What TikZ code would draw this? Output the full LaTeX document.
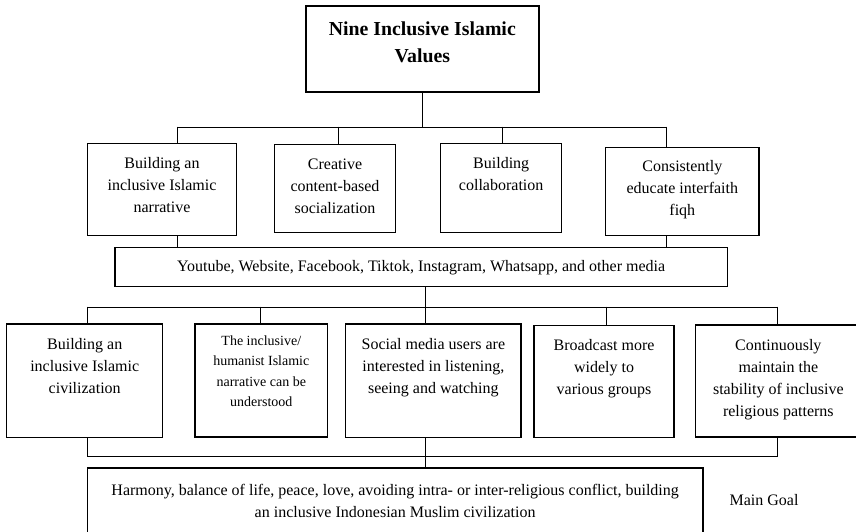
\documentclass[tikz,border=0pt]{standalone}
\usepackage{fontspec}
\setmainfont{Liberation Serif}
\usetikzlibrary{positioning,calc,backgrounds}
\pgfdeclarelayer{edgelayer}
\pgfdeclarelayer{nodelayer}
\pgfsetlayers{background,edgelayer,nodelayer,main}
\tikzstyle{none}=[inner sep=0mm]
\tikzstyle{cell}=[draw=black,line width=1.1pt,inner sep=0pt,font=\fontsize{16}{22}\selectfont]
\tikzstyle{head cell}=[cell,line width=2pt,font=\fontsize{19.8}{26.7}\selectfont\bfseries]
\tikzstyle{small cell}=[cell,font=\fontsize{14}{20.3}\selectfont]
\tikzstyle{goal}=[none,font=\fontsize{16}{22}\selectfont]
\tikzstyle{every picture}=[x=1pt,y=-1pt,line width=0.9pt]
% top aligned text in a box: width, height, first baseline, text
\newcommand{\celltext}[4]{\parbox[c][#2pt][t]{#1pt}{\centering\rule{0pt}{#3pt}#4}}

\begin{document}
\begin{tikzpicture}
	\useasboundingbox (0,0) rectangle (856,531);
	\begin{pgfonlayer}{nodelayer}
		\node [style=head cell] (top) at (422.3,49) {\celltext{233.3}{86.6}{29.6}{Nine Inclusive Islamic\\Values}};
		% strategies
		\node [style=cell] (narr) at (162,189.5) {\celltext{149.4}{92.4}{25.5}{Building an\\inclusive Islamic\\narrative}};
		\node [style=cell] (cont) at (335,188.5) {\celltext{121.4}{88.4}{25.5}{Creative\\content-based\\socialization}};
		\node [style=cell] (collab) at (501.2,188) {\celltext{121}{89.4}{25.5}{Building\\collaboration}};
		\node [style=cell] (fiqh) at (682.35,191.5) {\celltext{153.3}{88.4}{23.9}{Consistently\\educate interfaith\\fiqh}};
		\node [style=cell] (media) at (421.15,267.2) {\parbox[c][39pt][c]{612.3pt}{\centering Youtube, Website, Facebook, Tiktok, Instagram, Whatsapp, and other media}};
		% outcomes
		\node [style=cell] (civ) at (84.7,380.65) {\celltext{156}{113.3}{25.5}{Building an\\inclusive Islamic\\civilization}};
		\node [style=small cell] (human) at (261.3,380.5) {\celltext{132.7}{113}{21.6}{The inclusive/\\humanist Islamic\\narrative can be\\understood}};
		\node [style=cell] (users) at (433.35,380.65) {\celltext{175.3}{113.3}{25.5}{Social media users are\\interested in listening,\\seeing and watching}};
		\node [style=cell] (spread) at (604,381.5) {\celltext{140}{111.6}{24.8}{Broadcast more\\widely to\\various groups}};
		\node [style=cell] (stable) at (778.35,381) {\celltext{165.3}{112}{25.5}{Continuously\\maintain the\\stability of inclusive\\religious patterns}};
		% goal
		\node [style=cell] (harmony) at (395.15,506.5) {\celltext{615.7}{77}{27.5}{Harmony, balance of life, peace, love, avoiding intra- or inter-religious conflict, building\\an inclusive Indonesian Muslim civilization}};
		\node [style=goal] (main) at (764,500) {Main Goal};
		% bus points
		\coordinate (u1) at (177.3,126.7);
		\coordinate (u2) at (337.7,126.7);
		\coordinate (u3) at (501.7,126.7);
		\coordinate (u4) at (665.7,126.7);
		\coordinate (v1) at (87.3,306.7);
		\coordinate (v2) at (260.5,306.7);
		\coordinate (v3) at (425.5,306.7);
		\coordinate (v4) at (605.7,306.7);
		\coordinate (v5) at (777.3,306.7);
		\coordinate (w1) at (87.3,455.7);
		\coordinate (w5) at (777.3,455.7);
	\end{pgfonlayer}
	\begin{pgfonlayer}{edgelayer}
		\draw (top) to (top |- u1);
		\draw (u1) to (u4);
		\foreach \n/\b in {1/narr,2/cont,3/collab,4/fiqh}
			\draw (u\n) to (u\n |- \b.north);
		\draw (narr.south -| u1) to (media.north -| u1);
		\draw (fiqh.south -| u4) to (media.north -| u4);
		\draw (media.south -| v3) to (v3);
		\draw (v1) to (v5);
		\foreach \n/\b in {1/civ,2/human,3/users,4/spread,5/stable}
			\draw (v\n) to (v\n |- \b.north);
		\draw (civ.south -| w1) -- (w1) -- (w5) -- (stable.south -| w5);
		\draw (users.south -| v3) to (harmony.north -| v3);
	\end{pgfonlayer}
\end{tikzpicture}
\end{document}
